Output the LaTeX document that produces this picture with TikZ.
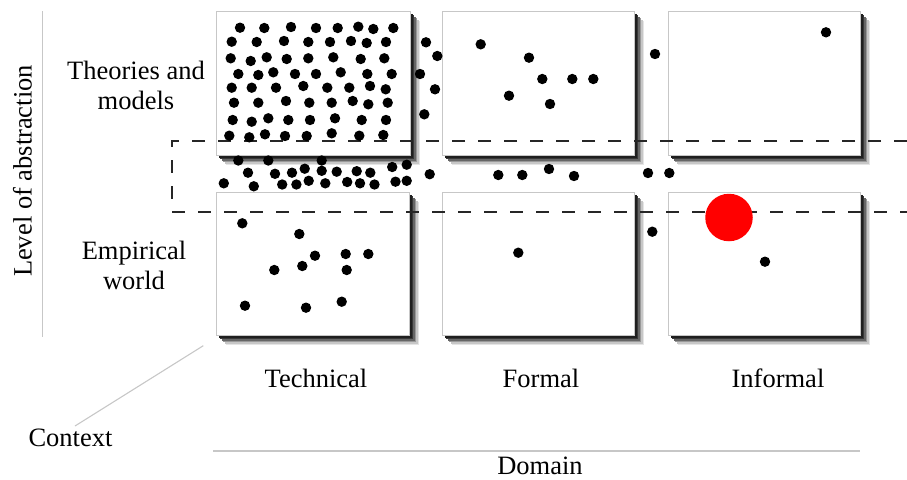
\documentclass[tikz,border=0pt]{standalone}
\usepackage{fontspec}
\setmainfont{Liberation Serif}
\begin{document}
\begin{tikzpicture}[x=1pt,y=-1pt,
  label/.style={font=\fontsize{26.5}{30}\selectfont, align=center, inner sep=0pt},
  guide/.style={draw=black!22, line width=1.1pt},
  band/.style={draw=black!85, line width=2.4pt, dash pattern=on 13pt off 13pt},
  pt/.style={fill=black},
  cell/.style={draw=black!22, line width=1.2pt, fill=white}]
\useasboundingbox (0,0) rectangle (907,479);

% boxes with graded drop shadows: \cellbox{name}{x1}{y1}{x2}{y2}
\newcommand{\cellbox}[5]{%
  \foreach \k/\c in {10/10, 8.5/22, 7/40, 5.5/60, 4/78, 2.5/88}{%
    \fill[black!\c] (#2+\k,#3+\k) rectangle (#4+\k,#5+\k);}
  \node[cell, minimum width=#4-#2, minimum height=#5-#3, anchor=north west] (#1) at (#2,#3) {};}

\cellbox{techtop}{216}{11}{410}{155}
\cellbox{formtop}{442}{11}{634}{155}
\cellbox{infotop}{668}{11}{860}{155}
\cellbox{techbot}{216}{192}{409}{335}
\cellbox{formbot}{442}{192}{634}{335}
\cellbox{infobot}{668}{192}{860}{335}

% dashed band between the two levels
\coordinate (bandTR) at (907,141);
\coordinate (bandTL) at (172,141);
\coordinate (bandBL) at (172,212);
\coordinate (bandBR) at (907,212);
\draw[band] (bandTR) -- (bandTL) -- (bandBL) -- (bandBR);

% dots
\foreach \x/\y in {
 240/27.7,264.3/28,291/27,316/28,337.7/28,358.3/26.7,373.3/29,393.3/28,
 231.7/41.7,256.7/42,284/41,308.3/42,330/42,351/41,366.7/43,386/42,
 230.7/58.3,250.7/61,266.7/57.3,286.7/59,308.3/58.3,333.3/57.3,360.7/59,384.3/58.3,
 238.3/74,258.3/75,273.3/72.3,295/74,316/74,340.7/72.3,367.3/74,391.7/74,
 231.7/87.7,251.7/87.7,276/87.7,303.3/86,327.3/87.7,349.3/87.7,370/86,385.7/89.3,
 234/102.7,258.3/102.7,286/101,309.3/102.7,331.7/102.7,352.7/101,368.3/104.3,387.7/102.7,
 232.7/120,251.7/121.7,268.3/118.3,288.3/120,310/120,335/118.3,361.7/120,386/120,
 229.3/135.7,249.3/137.3,265/134.3,285/136,306.7/136,331.7/133.3,359.3/135.7,383.3/135,
 426/42.3,437.3/56,420/74,435/89.3,424.3/114.3,
 238.3/160.5,268.3/160.5,321.7/160.5,
 223.8/183.3,248/172.7,253.8/186.3,275/173.8,282.2/184.5,292/172.7,296.4/184.5,
 304.7/168.7,308.7/180.8,321.7/170.8,325.3/183.3,336.7/171.7,347.2/182,356.7/171.2,
 360/183.3,370.3/172.7,374.5/184.5,392.2/167,395.5/181.7,406.7/164.7,406.7/180.8,429.7/174.2,
 498.3/175,522.3/175,549/169,574/176,648/173,669.3/173,
 480.7/44.3,529/57.7,542.3/79,572.3/79,593.3/79,509/95.7,550/104,
 655/54,826/32.3,
 242.3/223.3,299.3/234,315/255.7,345.7/254,368.3/254,274.3/270,302.3/266,346.7/270,
 245/305.7,306/307.7,341.7/301.7,
 518.3/252.7,652.3/231.7,765/261.7}
  \fill[pt] (\x,\y) circle (5.2pt);

\node[circle, fill=red, minimum size=47.5pt, inner sep=0pt] (focus) at (729,217.5) {};

% axes
\coordinate (vtop) at (42.3,11);
\coordinate (vbot) at (42.3,337);
\draw[guide] (vtop) -- (vbot);
\coordinate (hleft) at (213,451);
\coordinate (hright) at (860,451);
\draw[guide] (hleft) -- (hright);

% labels
\node[label, rotate=90] (abstraction) at (22.5,171) {Level of abstraction};
\node[label] (theories) at (136,85) {Theories and\\models};
\node[label] (empirical) at (134,265) {Empirical\\world};
\node[label] (technical) at (316,378) {Technical};
\node[label] (formal) at (541,378) {Formal};
\node[label] (informal) at (778,378) {Informal};
\node[label] (domain) at (540,466) {Domain};
\node[label] (context) at (70.5,438) {Context};

\coordinate (ctxstart) at (75,426);
\coordinate (ctxend) at (203.3,345.7);
\draw[guide] (ctxstart) -- (ctxend);
\end{tikzpicture}
\end{document}
